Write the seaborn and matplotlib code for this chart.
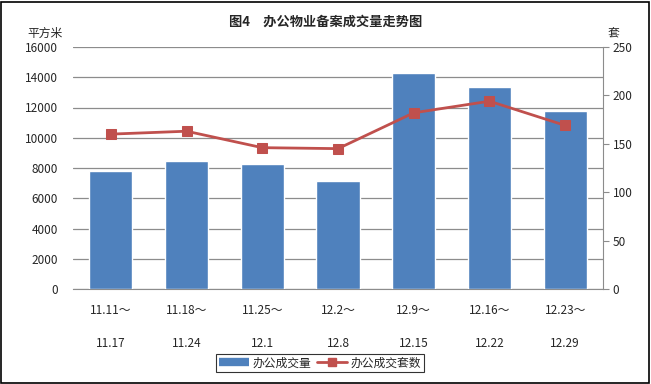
import matplotlib
matplotlib.use("Agg")
import matplotlib.pyplot as plt
import seaborn as sns
import pandas as pd
from matplotlib.lines import Line2D
from matplotlib.patches import Rectangle

sns.set_style("white")
plt.rcParams['font.family'] = ['Noto Sans CJK SC', 'DejaVu Sans']

categories = ["11.11～\n\n11.17", "11.18～\n\n11.24", "11.25～\n\n12.1", "12.2～\n\n12.8",
              "12.9～\n\n12.15", "12.16～\n\n12.22", "12.23～\n\n12.29"]
area = [7800, 8460, 8260, 7140, 14280, 13360, 11770]
units = [160, 163, 146, 145, 182, 194, 169]
left_ticks = [0, 2000, 4000, 6000, 8000, 10000, 12000, 14000, 16000]
right_ticks = [0, 50, 100, 150, 200, 250]

df = pd.DataFrame({"cat": categories, "area": area, "units": units})

fig = plt.figure(figsize=(6.51, 3.84), dpi=100)
ax = fig.add_axes([73/651, 1-289/384, 530/651, 242/384])

bar_color = "#4F81BD"
line_color = "#C0504D"

sns.barplot(data=df, x="cat", y="area", color=bar_color, width=0.57, ax=ax, zorder=3,
            saturation=1)
ax.set_ylim(0, 16000)
ax.set_yticks(left_ticks)
ax.set_yticklabels([str(v) for v in left_ticks], fontsize=8.5)
ax.yaxis.grid(True, color="#8C8C8C", linewidth=0.9)
ax.set_axisbelow(True)
ax.set_xlabel("")
ax.set_ylabel("")
ax.tick_params(axis="x", length=0, labelsize=8.5, pad=11)
ax.tick_params(axis="y", length=0, pad=11)
for lbl in ax.get_xticklabels():
    lbl.set_linespacing(1.35)
for s in ["top", "left", "right"]:
    ax.spines[s].set_visible(False)
ax.spines["bottom"].set_color("#8C8C8C")

ax2 = ax.twinx()
sns.lineplot(x=list(range(len(categories))), y=units, ax=ax2, color=line_color,
             marker="s", markersize=7, markeredgecolor=line_color, linewidth=2, zorder=4)
ax2.set_ylim(0, 250)
ax2.set_yticks(right_ticks)
ax2.set_yticklabels([str(v) for v in right_ticks], fontsize=8.5)
ax2.tick_params(axis="y", length=4, color="#8C8C8C", direction="out", pad=3)
for s in ["top", "left", "bottom"]:
    ax2.spines[s].set_visible(False)
ax2.spines["right"].set_color("#8C8C8C")
ax2.set_xlim(-0.5, len(categories) - 0.5)
ax.set_xlim(-0.5, len(categories) - 0.5)

fig.text(0.5, 1-22/384, "图4　办公物业备案成交量走势图", ha="center", va="center",
         fontsize=9.5, fontweight="bold")
fig.text(27/651, 1-33/384, "平方米", ha="left", va="center", fontsize=8.5)
fig.text(608/651, 1-34/384, "套", ha="left", va="center", fontsize=8.5)

handles = [Line2D([0], [0], color=bar_color, linewidth=6, solid_capstyle="butt"),
           Line2D([0], [0], color=line_color, linewidth=2, marker="s", markersize=6)]
leg = fig.legend(handles, ["办公成交量", "办公成交套数"], loc="center",
                 bbox_to_anchor=(320/651, 1-363/384), ncol=2, fontsize=8.5, frameon=True,
                 fancybox=False, handlelength=2.5, columnspacing=0.5, handletextpad=0.3,
                 borderpad=0.25)
leg.get_frame().set_edgecolor("black")
leg.get_frame().set_linewidth(0.8)

fig.patches.append(Rectangle((0.002, 0.003), 0.995, 0.993, transform=fig.transFigure,
                             fill=False, edgecolor="black", linewidth=1.2))

fig.savefig("out.png", dpi=100)
